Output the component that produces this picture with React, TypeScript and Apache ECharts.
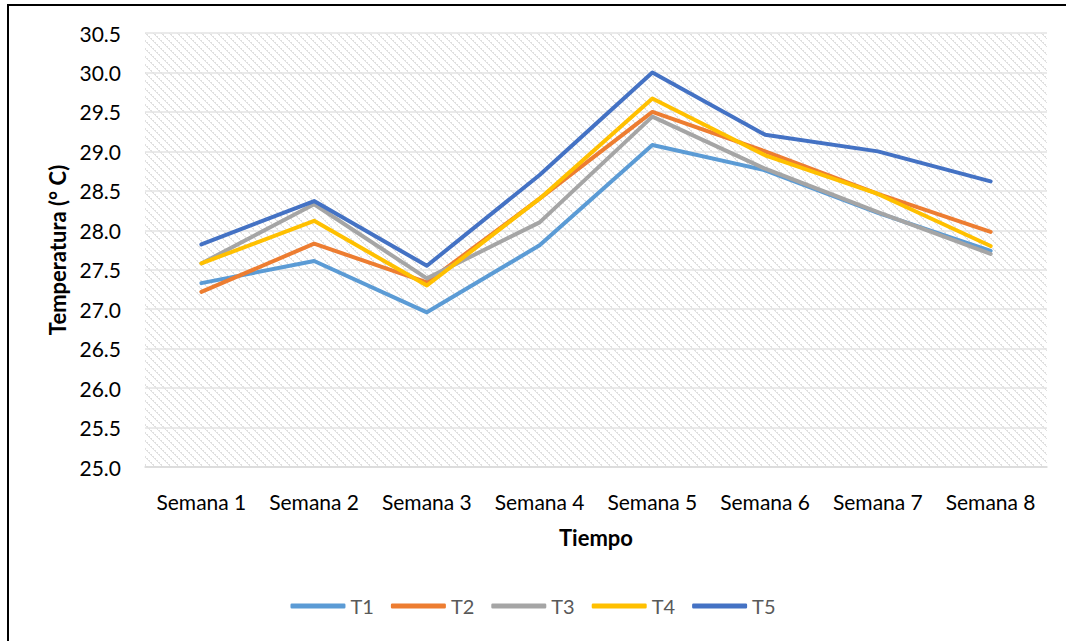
import React, { useEffect, useRef } from "react";
import * as echarts from "echarts";

const categories = ["Semana 1", "Semana 2", "Semana 3", "Semana 4", "Semana 5", "Semana 6", "Semana 7", "Semana 8"];
const seriesNames = ["T1", "T2", "T3", "T4", "T5"];
const t1 = [27.33, 27.61, 26.96, 27.81, 29.08, 28.76, 28.22, 27.74];
const t2 = [27.22, 27.83, 27.34, 28.40, 29.50, 29.00, 28.46, 27.98];
const t3 = [27.58, 28.33, 27.39, 28.10, 29.44, 28.78, 28.23, 27.70];
const t4 = [27.58, 28.12, 27.30, 28.40, 29.67, 28.95, 28.46, 27.80];
const t5 = [27.82, 28.37, 27.55, 28.70, 30.00, 29.21, 29.00, 28.62];
const seriesValues = [t1, t2, t3, t4, t5];
const colors = ["#5B9BD5", "#ED7D31", "#A5A5A5", "#FFC000", "#4472C4"];

function makeHatch(): HTMLCanvasElement {
  const n = 8;
  const c = document.createElement("canvas");
  c.width = n;
  c.height = n;
  const ctx = c.getContext("2d");
  if (ctx) {
    ctx.fillStyle = "#ffffff";
    ctx.fillRect(0, 0, n, n);
    ctx.fillStyle = "#e0e0e0";
    for (let i = 0; i < n; i++) {
      ctx.fillRect(i, i, 1, 1);
      if (i % 2 === 0) ctx.fillRect((i + 1) % n, i, 1, 1);
    }
  }
  return c;
}

export default function App() {
  const ref = useRef<HTMLDivElement>(null);
  useEffect(() => {
    if (!ref.current) return;
    const chart = echarts.init(ref.current, undefined, { renderer: "svg" });
    const hatch = makeHatch();
    const font = "Lato, 'Open Sans', sans-serif";
    chart.setOption({
      animation: false,
      textStyle: { fontFamily: font },
      graphic: [
        {
          type: "rect",
          shape: { x: 8, y: 5, width: 1100, height: 700 },
          style: { fill: "none", stroke: "#000", lineWidth: 2 },
          silent: true,
          z: 100,
        },
      ],
      grid: {
        left: 145,
        right: 19,
        top: 33,
        bottom: 174,
        show: true,
        borderWidth: 0,
        backgroundColor: { image: hatch, repeat: "repeat", imageWidth: 8, imageHeight: 8 } as any,
      },
      legend: {
        data: seriesNames,
        bottom: 20,
        left: "center",
        itemWidth: 55,
        itemHeight: 5,
        itemGap: 17,
        icon: "roundRect",
        textStyle: { fontSize: 20, color: "#595959", fontFamily: font },
      },
      xAxis: {
        type: "category",
        data: categories,
        boundaryGap: true,
        name: "Tiempo",
        nameLocation: "middle",
        nameGap: 59,
        nameTextStyle: { fontSize: 22, fontWeight: "bold", color: "#000", fontFamily: font },
        axisLine: { lineStyle: { color: "#d9d9d9", width: 1.5 } },
        axisTick: { show: false },
        axisLabel: { fontSize: 21, color: "#000", margin: 24, interval: 0, fontFamily: font },
      },
      yAxis: {
        type: "value",
        min: 25,
        max: 30.5,
        interval: 0.5,
        name: "Temperatura (° C)",
        nameLocation: "middle",
        nameGap: 77,
        nameTextStyle: { fontSize: 22, fontWeight: "bold", color: "#000", fontFamily: font },
        axisLine: { show: false },
        axisTick: { show: false },
        splitLine: { lineStyle: { color: "#e3e3e3", width: 1.5 } },
        axisLabel: {
          fontSize: 21,
          color: "#000",
          margin: 24,
          fontFamily: font,
          formatter: (v: number) => v.toFixed(1),
        },
      },
      series: seriesNames.map((n, i) => ({
        name: n,
        type: "line",
        data: seriesValues[i],
        symbol: "none",
        color: colors[i],
        itemStyle: { color: colors[i] },
        lineStyle: { color: colors[i], width: 4, join: "round", cap: "round" },
      })),
    });
    return () => chart.dispose();
  }, []);
  return (
    <div
      ref={ref}
      style={{ position: "absolute", left: 0, top: 0, width: 1066, height: 641, background: "#fff" }}
    />
  );
}
